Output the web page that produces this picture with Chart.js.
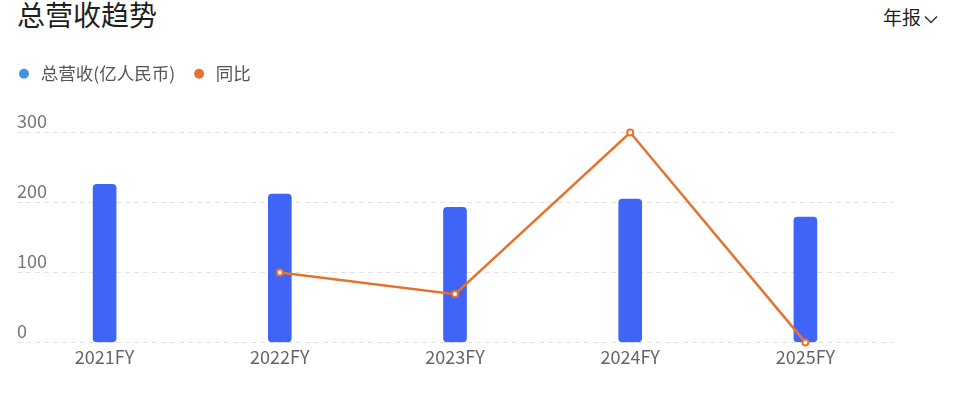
<!DOCTYPE html>
<html>
<head>
<meta charset="utf-8">
<script src="https://cdn.jsdelivr.net/npm/chart.js@4/dist/chart.umd.min.js"></script>
<style>
  html, body { margin: 0; padding: 0; background: #fff; }
  #wrap { position: relative; width: 960px; height: 402px; overflow: hidden; }
  #title { position: absolute; left: 17px; top: 0px; font: 28px/28px 'Noto Sans CJK SC', sans-serif; color: #1f1f1f; white-space: nowrap; }
  #period { position: absolute; left: 883px; top: 7px; font: 19px/19px 'Noto Sans CJK SC', sans-serif; color: #1f1f1f; white-space: nowrap; }
  #period svg { vertical-align: middle; margin-left: 3px; }
  canvas { position: absolute; left: 0; top: 0; }
</style>
</head>
<body>
<div id="wrap">
  <div id="title">总营收趋势</div>
  <div id="period">年报<svg width="14" height="9" viewBox="0 0 14 9"><polyline points="1,1.5 7,7.5 13,1.5" fill="none" stroke="#333" stroke-width="1.5"/></svg></div>
  <canvas id="c" width="960" height="402"></canvas>
</div>
<script>
const categories = ['2021FY', '2022FY', '2023FY', '2024FY', '2025FY'];
const revenue = [226, 212, 193, 205, 179];
const yoy = [null, 100, 69, 300, 0];
const seriesNames = ['总营收(亿人民币)', '同比'];
const yTicks = [0, 100, 200, 300];

const BLUE = '#4064F5';
const ORANGE = '#E6722F';
const legendColors = ['#3f93df', ORANGE];
const FONT = "'Noto Sans CJK SC', 'Noto Sans', sans-serif";

Chart.defaults.font.family = FONT;

const legendMargin = {
  id: 'legendMargin',
  beforeLayout(chart) {
    const lg = chart.legend;
    if (lg && !lg._patched) {
      const fit = lg.fit;
      lg.fit = function () { fit.call(this); this.height += 40; };
      lg._patched = true;
    }
  }
};

new Chart(document.getElementById('c'), {
  data: {
    labels: categories,
    datasets: [
      {
        type: 'bar',
        label: seriesNames[0],
        data: revenue,
        backgroundColor: BLUE,
        barThickness: 23,
        borderRadius: 4,
        borderSkipped: false,
        order: 1
      },
      {
        type: 'line',
        label: seriesNames[1],
        data: yoy,
        borderColor: ORANGE,
        backgroundColor: ORANGE,
        borderWidth: 2.5,
        pointRadius: 3,
        pointBorderWidth: 2,
        pointBackgroundColor: '#fff',
        pointBorderColor: ORANGE,
        tension: 0,
        spanGaps: true,
        clip: false,
        order: 0
      }
    ]
  },
  options: {
    responsive: false,
    devicePixelRatio: 1,
    animation: false,
    layout: { padding: { top: 49, left: 0, right: 67, bottom: 30 } },
    plugins: {
      tooltip: { enabled: false },
      legend: {
        position: 'top',
        align: 'start',
        labels: {
          usePointStyle: true,
          pointStyle: 'circle',
          boxWidth: 16,
          boxHeight: 7,
          padding: 16,
          color: '#555',
          font: { size: 17.5, family: FONT },
          sort: (a, b) => a.datasetIndex - b.datasetIndex,
          generateLabels(chart) {
            return chart.data.datasets.map((ds, i) => ({
              text: ds.label,
              fillStyle: legendColors[i],
              strokeStyle: legendColors[i],
              lineWidth: 0,
              pointStyle: 'circle',
              hidden: !chart.isDatasetVisible(i),
              datasetIndex: i,
              fontColor: '#555'
            }));
          }
        }
      }
    },
    scales: {
      x: {
        grid: { display: false, drawTicks: false },
        border: { display: false },
        ticks: { color: '#666', font: { size: 18 }, padding: 4, maxRotation: 0 }
      },
      y: {
        min: 0,
        max: 300,
        afterBuildTicks(scale) { scale.ticks = yTicks.map(v => ({ value: v })); },
        afterFit(scale) { scale.width = 17; },
        grid: { color: '#e3e3e3', lineWidth: 1, drawTicks: false },
        border: { display: false, dash: [5, 4] },
        ticks: { mirror: true, padding: 0, labelOffset: -11, color: '#777', font: { size: 18 } }
      }
    }
  },
  plugins: [legendMargin]
});
</script>
</body>
</html>
